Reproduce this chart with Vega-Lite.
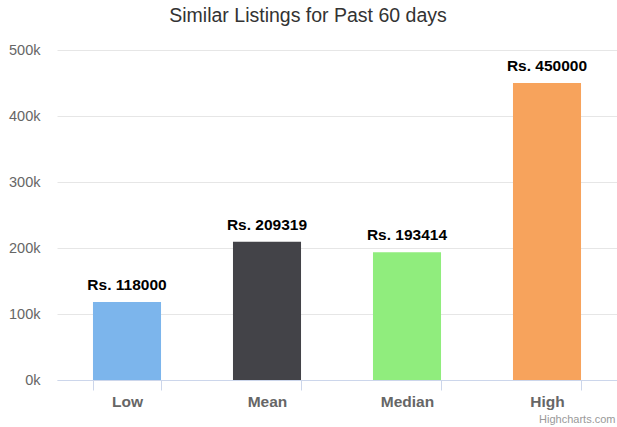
{
  "$schema": "https://vega.github.io/schema/vega-lite/v6.json",
  "width": 560,
  "height": 330,
  "autosize": {"type": "none"},
  "padding": {"left": 57, "top": 50, "right": 0, "bottom": 47},
  "background": "white",
  "title": {
    "text": "Similar Listings for Past 60 days",
    "fontSize": 19.5,
    "font": "Liberation Sans",
    "fontWeight": "normal",
    "color": "#333333",
    "anchor": "middle",
    "frame": "group",
    "dx": -29,
    "baseline": "alphabetic",
    "offset": 1
  },
  "data": {
    "values": [
      {"category": "Low", "value": 118000, "label": "Rs. 118000"},
      {"category": "Mean", "value": 209319, "label": "Rs. 209319"},
      {"category": "Median", "value": 193414, "label": "Rs. 193414"},
      {"category": "High", "value": 450000, "label": "Rs. 450000"}
    ]
  },
  "encoding": {
    "x": {
      "field": "category",
      "type": "nominal",
      "sort": null,
      "scale": {"paddingInner": 0.514, "paddingOuter": 0.257},
      "axis": {
        "title": "Highcharts.com",
        "titleFont": "Liberation Sans",
        "titleFontSize": 11,
        "titleFontWeight": "normal",
        "titleColor": "#999999",
        "titleAnchor": "end",
        "titleAlign": "right",
        "titleBaseline": "alphabetic",
        "titleX": 558,
        "titleY": 42,
        "labelAngle": 0,
        "labelFont": "Liberation Sans",
        "labelFontSize": 15.5,
        "labelFontWeight": "bold",
        "labelColor": "#666666",
        "labelPadding": 4,
        "domainColor": "#ccd6eb",
        "tickColor": "#ccd6eb",
        "tickSize": 10,
        "tickBand": "extent",
        "grid": false
      }
    },
    "y": {
      "field": "value",
      "type": "quantitative",
      "scale": {"domain": [0, 500000], "nice": false},
      "axis": {
        "title": null,
        "values": [0, 100000, 200000, 300000, 400000, 500000],
        "labelExpr": "format(datum.value / 1000, 'd') + 'k'",
        "labelFont": "Liberation Sans",
        "labelFontSize": 14.5,
        "labelColor": "#666666",
        "labelPadding": 17,
        "domain": false,
        "ticks": false,
        "gridColor": "#e6e6e6"
      }
    }
  },
  "layer": [
    {
      "mark": {"type": "bar"},
      "encoding": {
        "color": {
          "field": "category",
          "type": "nominal",
          "sort": null,
          "scale": {
            "domain": ["Low", "Mean", "Median", "High"],
            "range": ["#7cb5ec", "#434348", "#90ed7d", "#f7a35c"]
          },
          "legend": null
        }
      }
    },
    {
      "mark": {
        "type": "text",
        "font": "Liberation Sans",
        "fontSize": 15.5,
        "fontWeight": "bold",
        "color": "#000000",
        "baseline": "alphabetic",
        "dy": -12
      },
      "encoding": {
        "text": {"field": "label"}
      }
    }
  ],
  "config": {
    "view": {"stroke": null}
  }
}
